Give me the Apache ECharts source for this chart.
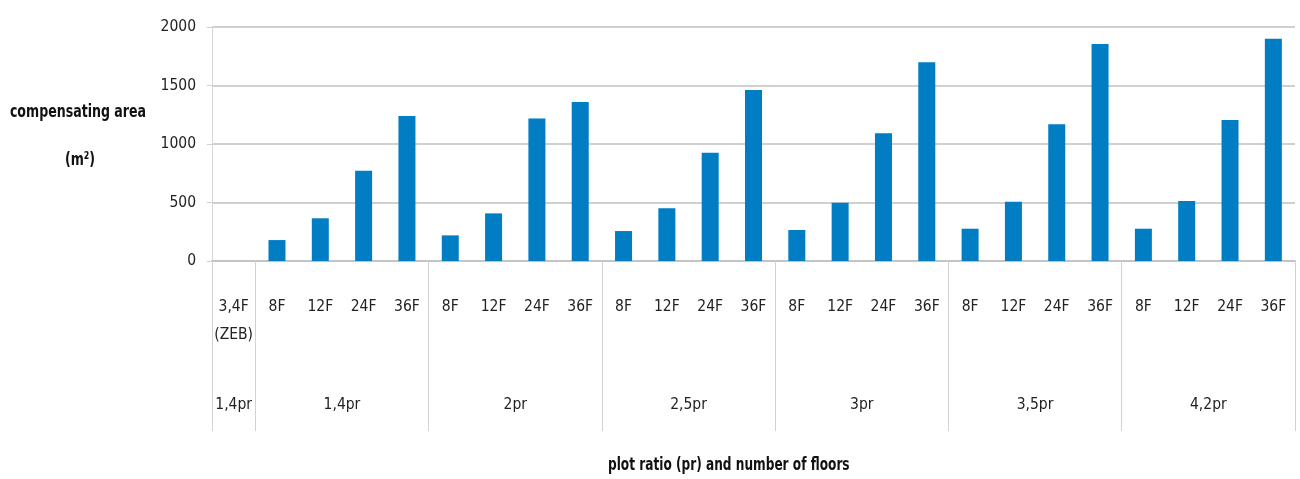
<!DOCTYPE html>
<html>
<head>
<meta charset="utf-8">
<script src="https://cdn.jsdelivr.net/npm/echarts@6/dist/echarts.min.js"></script>
<style>html,body{margin:0;padding:0;background:#fff}#c{width:1300px;height:479px}</style>
</head>
<body>
<div id="c"></div>
<script>
var floorLabels = ['3,4F\n(ZEB)','8F','12F','24F','36F','8F','12F','24F','36F','8F','12F','24F','36F','8F','12F','24F','36F','8F','12F','24F','36F','8F','12F','24F','36F'];
var areaValues = [0,179,365,772,1239, 219,407,1219,1359, 256,450,926,1462, 265,498,1091,1698, 276,507,1168,1855, 276,513,1205,1900];
var groupNames = ['1,4pr','1,4pr','2pr','2,5pr','3pr','3,5pr','4,2pr'];
var groupSizes = [1,4,4,4,4,4,4];
var yTicks = [0,500,1000,1500,2000];

var FONT = '"DejaVu Sans Condensed", "Liberation Sans Narrow", sans-serif';
var groupStarts = [], centerMap = {};
var acc = 0;
groupSizes.forEach(function(s, i){ groupStarts.push(acc); centerMap[(acc + s/2).toFixed(1)] = groupNames[i]; acc += s; });
var nCats = acc;

var chart = echarts.init(document.getElementById('c'));
chart.setOption({
  animation: false,
  backgroundColor: '#fff',
  grid: {left: 212, right: 5, top: 27, bottom: 218, containLabel: false},
  xAxis: [{
    type: 'category',
    data: floorLabels,
    position: 'bottom',
    axisLine: {show: true, lineStyle: {color: '#c4c4c4', width: 2}},
    axisTick: {show: true, length: 170, interval: function(i){ return groupStarts.indexOf(i) >= 0; }, lineStyle: {color: '#d2d2d2', width: 1}},
    axisLabel: {interval: 0, fontFamily: FONT, fontSize: 15.5, color: '#222', lineHeight: 28, margin: 32},
    splitLine: {show: false}
  }, {
    type: 'value',
    min: 0, max: nCats, interval: 0.5,
    position: 'bottom',
    axisLine: {show: false}, axisTick: {show: false}, splitLine: {show: false},
    axisLabel: {fontFamily: FONT, fontSize: 15.5, color: '#222', lineHeight: 28, margin: 130,
      formatter: function(v){ return centerMap[v.toFixed(1)] || ''; }}
  }],
  yAxis: {
    type: 'value', min: yTicks[0], max: yTicks[yTicks.length-1], interval: yTicks[1]-yTicks[0],
    axisLine: {show: true, lineStyle: {color: '#d6d6d6', width: 1}},
    axisTick: {show: true, length: 5, lineStyle: {color: '#d0d0d0', width: 1}},
    axisLabel: {fontFamily: FONT, fontSize: 15.5, color: '#222', margin: 16, formatter: function(v){ return String(v); }},
    splitLine: {lineStyle: {color: '#d0d0d0', width: 2}}
  },
  series: [{
    type: 'bar', xAxisIndex: 0, data: areaValues, barWidth: 17,
    itemStyle: {color: '#007dc3'}
  }],
  graphic: [
    {type: 'text', x: 78, y: 112, scaleY: 1.3, style: {text: 'compensating area', font: 'bold 14px ' + FONT, fill: '#111', textAlign: 'center', textVerticalAlign: 'middle'}},
    {type: 'text', x: 80, y: 160, scaleY: 1.3, style: {text: '(m²)', font: 'bold 14px ' + FONT, fill: '#111', textAlign: 'center', textVerticalAlign: 'middle'}},
    {type: 'text', x: 608, y: 465, scaleY: 1.3, style: {text: 'plot ratio (pr) and number of floors', font: 'bold 13.5px ' + FONT, fill: '#111', textAlign: 'left', textVerticalAlign: 'middle'}}
  ]
});
</script>
</body>
</html>
